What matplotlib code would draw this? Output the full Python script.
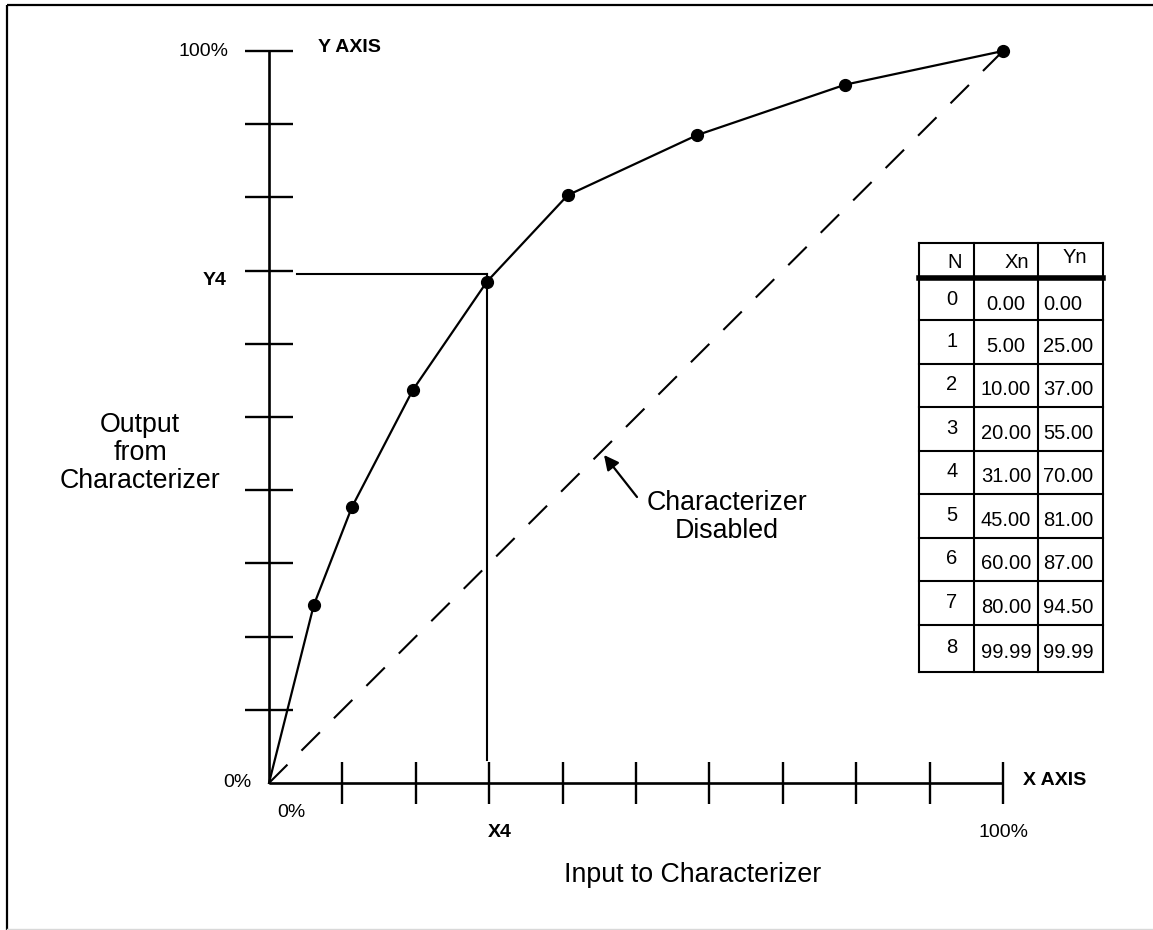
import matplotlib
matplotlib.use("Agg")
import matplotlib.pyplot as plt

plt.rcParams['font.family'] = ['Liberation Sans', 'DejaVu Sans']

# ---------------- data ----------------
# characterizer break points as drawn (percent of span)
curve_x = [0, 6.1, 11.3, 19.6, 29.7, 40.7, 58.3, 78.5, 100]
curve_y = [0, 24.3, 37.7, 53.7, 68.5, 80.3, 88.5, 95.4, 100]
# "characterizer disabled" identity line
disabled_x = [0, 100]
disabled_y = [0, 100]
# X4 / Y4 guide position
x4_value = 29.7
y4_value = 69.5
# axis ticks
x_ticks = [10, 20, 30, 40, 50, 60, 70, 80, 90, 100]
y_ticks = [10, 20, 30, 40, 50, 60, 70, 80, 90, 100]
# table contents
table_header = ["N", "Xn", "Yn"]
table_n = ["0", "1", "2", "3", "4", "5", "6", "7", "8"]
table_xn = ["0.00", "5.00", "10.00", "20.00", "31.00", "45.00", "60.00", "80.00", "99.99"]
table_yn = ["0.00", "25.00", "37.00", "55.00", "70.00", "81.00", "87.00", "94.50", "99.99"]

# ---------------- figure ----------------
W, H = 1153, 930
fig = plt.figure(figsize=(W / 100, H / 100), dpi=100)
fig.patch.set_facecolor('white')

# overlay in pixel coordinates for layout items
ov = fig.add_axes([0, 0, 1, 1])
ov.set_xlim(0, W)
ov.set_ylim(H, 0)
ov.axis('off')
ov.patch.set_visible(False)

# page frame
ov.plot([7, W], [5, 5], color='black', lw=1.6, solid_capstyle='butt')
ov.plot([7, 7], [5, H], color='black', lw=1.6, solid_capstyle='butt')
ov.plot([7, W], [928.5, 928.5], color='#d8d8d8', lw=1.0)

# data axes
ax = fig.add_axes([269 / W, (H - 783) / H, 734 / W, 732 / H])
ax.set_xlim(0, 100)
ax.set_ylim(0, 100)
ax.patch.set_visible(False)
for s in ['top', 'right']:
    ax.spines[s].set_visible(False)
for s in ['left', 'bottom']:
    ax.spines[s].set_linewidth(1.9)
    ax.spines[s].set_capstyle('butt')
ax.set_xticks(x_ticks)
ax.set_yticks(y_ticks)
ax.tick_params(axis='x', direction='inout', length=30, width=1.7,
               labelbottom=False)
ax.tick_params(axis='y', direction='inout', length=34, width=1.7,
               labelleft=False)
for t in ax.xaxis.get_major_ticks() + ax.yaxis.get_major_ticks():
    t.tick1line.set_clip_on(False)

# disabled (dashed) line
ax.plot(disabled_x, disabled_y, color='black', lw=1.5,
        linestyle=(0, (12.5, 9.5)), clip_on=False)

# characterizer curve (no dot at the origin)
ax.plot(curve_x, curve_y, color='black', lw=1.6, marker='o', ms=8.5,
        markevery=list(range(1, len(curve_x))), clip_on=False, zorder=5)

# Y4 / X4 guide lines
ax.plot([3.8, x4_value], [y4_value, y4_value], color='black', lw=1.5,
        clip_on=False)
ax.plot([x4_value, x4_value], [y4_value, 3.1], color='black', lw=1.5,
        clip_on=False)

# ---------------- text ----------------
fs = 14
ov.text(228, 52, "100%", ha='right', va='center', fontsize=fs)
ov.text(318, 47, "Y AXIS", ha='left', va='center', fontsize=fs, fontweight='bold')
ov.text(227, 280, "Y4", ha='right', va='center', fontsize=fs, fontweight='bold')
ov.text(252, 782, "0%", ha='right', va='center', fontsize=fs)
ov.text(291, 812, "0%", ha='center', va='center', fontsize=fs)
ov.text(500, 832, "X4", ha='center', va='center', fontsize=fs, fontweight='bold')
ov.text(1003, 832, "100%", ha='center', va='center', fontsize=fs)
ov.text(1023, 780, "X AXIS", ha='left', va='center', fontsize=fs, fontweight='bold')

big = 19.3
ov.text(140, 453, "Output\nfrom\nCharacterizer", ha='center', va='center',
        fontsize=big, linespacing=1.08)
ov.text(727, 517, "Characterizer\nDisabled", ha='center', va='center',
        fontsize=big, linespacing=1.12)
ov.text(693, 875, "Input to Characterizer", ha='center', va='center', fontsize=big)

ov.annotate('', xy=(604, 455), xytext=(637, 497),
            arrowprops=dict(arrowstyle='-|>', mutation_scale=22, lw=1.6,
                            color='black', shrinkA=0, shrinkB=0))

# ---------------- table ----------------
t_left, t_c1, t_c2, t_right = 919, 974, 1038, 1103
t_top = 243
header_line = 278.5
row_lines = [278.5, 320, 364, 407, 451, 494, 538, 581, 625, 672]
lw_t = 1.5
for xv in [t_left, t_c1, t_c2, t_right]:
    ov.plot([xv, xv], [t_top, row_lines[-1]], color='black', lw=lw_t,
            solid_capstyle='projecting')
ov.plot([t_left, t_right], [t_top, t_top], color='black', lw=lw_t)
ov.plot([t_left, t_right], [header_line, header_line], color='black', lw=4)
for yl in row_lines[1:]:
    ov.plot([t_left, t_right], [yl, yl], color='black', lw=lw_t)

tfs = 14.5
ov.text(955, 262, table_header[0], ha='center', va='center', fontsize=tfs)
ov.text(1017, 262, table_header[1], ha='center', va='center', fontsize=tfs)
ov.text(1075, 257, table_header[2], ha='center', va='center', fontsize=tfs)
for i in range(len(table_n)):
    top = row_lines[i] + (2 if i == 0 else 0)
    bot = row_lines[i + 1]
    c = (top + bot) / 2
    ov.text(952, c - 1, table_n[i], ha='center', va='center', fontsize=tfs)
    ov.text(1006, c + 4, table_xn[i], ha='center', va='center', fontsize=tfs)
    ov.text(1043, c + 4, table_yn[i], ha='left', va='center', fontsize=tfs)

fig.savefig("out.png", dpi=100, facecolor='white')
